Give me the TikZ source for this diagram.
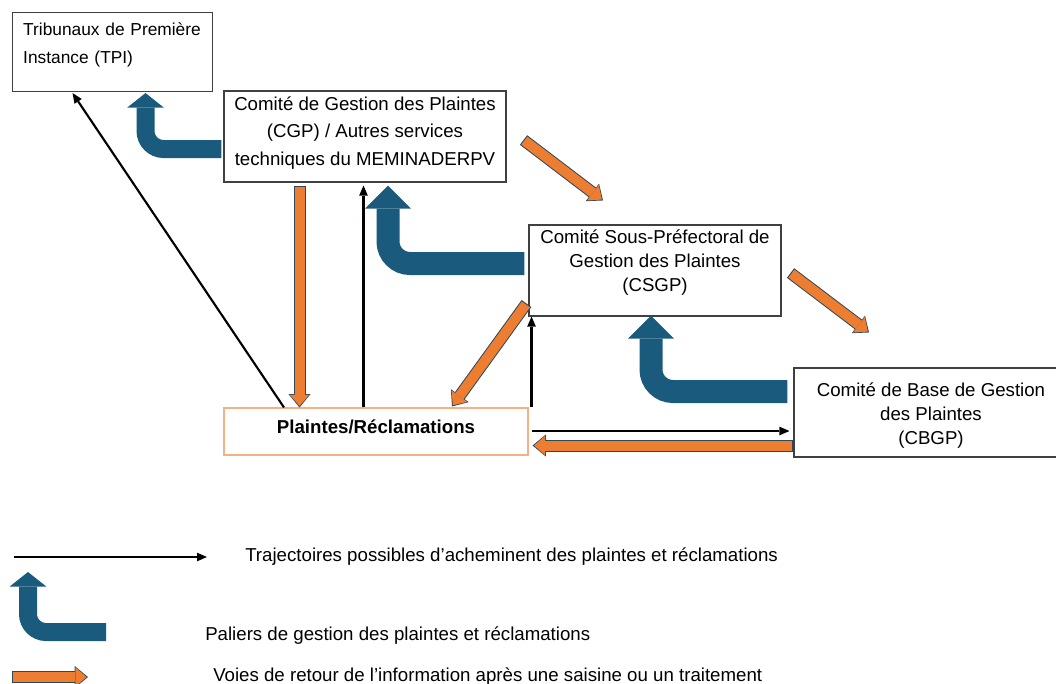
\documentclass[tikz,border=0pt]{standalone}
\usepackage{fontspec}
\setmainfont{Liberation Sans}
\usetikzlibrary{arrows.meta, calc}
\definecolor{palblue}{HTML}{1A5A7D}
\definecolor{retorange}{HTML}{ED7D31}
\definecolor{retedge}{HTML}{2F4858}
\definecolor{boxedge}{HTML}{404040}
\definecolor{pinkedge}{HTML}{F4B183}

\begin{document}
\begin{tikzpicture}[x=0.75pt, y=-0.75pt,
  box/.style={draw=boxedge, line width=0.8pt, inner sep=0pt, align=center},
  traj/.style={black, line width=1.6pt, -{Triangle[length=7.5pt, width=6.5pt, line width=0pt]}},
  palier/.style={palblue, line width=17.25pt, rounded corners=16.5pt,
    -{Triangle[length=17.25pt, width=34.5pt, line width=0pt]}},
  palsmall/.style={palblue, line width=13.5pt, rounded corners=13.5pt,
    -{Triangle[length=11pt, width=27.75pt, line width=0pt]}},
  retour/.style={draw=retorange, line width=7.5pt, shorten <=0.8pt, shorten >=1.1pt,
    -{Triangle[length=8.4pt, width=14.5pt, line width=0pt]},
    preaction={draw=retedge, line width=9pt, shorten <=0pt, shorten >=0pt,
      -{Triangle[length=10pt, width=16.5pt, line width=0pt]}}},
  legtext/.style={anchor=base west, inner sep=0pt, font=\fontsize{14}{17}\selectfont}]

\useasboundingbox (0,0) rectangle (1056,683);

% Boxes
\node[box, anchor=north west, align=left, text width=138pt, inner xsep=6pt,
      text height=17.25pt, text depth=42pt, font=\fontsize{13}{21}\selectfont]
      (tpi) at (12,12) {\hspace*{2pt}Tribunaux de Première\\\hspace*{2pt}Instance (TPI)};
\node[box, minimum width=211.5pt, text height=55.5pt, text depth=12.75pt,
      font=\fontsize{14}{20.6}\selectfont]
      (cgp) at (365,136.5) {Comité de Gestion des Plaintes\\(CGP) / Autres services\\techniques du MEMINADERPV};
\node[box, minimum width=189pt, text height=49.5pt, text depth=18.75pt,
      font=\fontsize{14}{18}\selectfont]
      (csgp) at (655,270.5) {Comité Sous-Préfectoral de\\Gestion des Plaintes\\(CSGP)};
\node[box, minimum width=205.5pt, text height=57pt, text depth=9.75pt,
      font=\fontsize{14}{18}\selectfont]
      (cbgp) at (931,412.5) {Comité de Base de Gestion\\des Plaintes\\(CBGP)};
\node[box, draw=pinkedge, minimum width=228pt, text height=18.75pt, text depth=16.5pt,
      font=\bfseries\fontsize{14}{17}\selectfont]
      (plaintes) at (376,431.5) {Plaintes/Réclamations};

% Paliers (blue)
\draw[palsmall] ($(cgp.west)+(-2,12.5)$) -| ($(tpi.south)+(33,1)$);
\draw[palier] ($(csgp.west)+(-4,-7)$) -| ($(cgp.south)+(23,3)$);
\draw[palier] ($(cbgp.west)+(-6,-21)$) -| ($(csgp.south)+(-4,-1)$);

% Trajectoires (black)
\draw[traj] ($(plaintes.north)+(-92,0)$) -- ($(tpi.south)+(-40,1)$);
\coordinate (t2) at ($(plaintes.north)+(-12.5,0)$);
\draw[traj, shorten >=2.25pt] (t2) -- (t2 |- cgp.south);
\coordinate (t8) at ($(plaintes.north east)+(3,0)$);
\draw[traj] (t8) -- (t8 |- csgp.south);
\coordinate (t11) at ($(plaintes.east)+(3,-0.5)$);
\draw[traj, shorten >=3pt] (t11) -- (t11 -| cbgp.west);

% Retours (orange)
\coordinate (r1) at ($(cgp.south)+(-65.5,3)$);
\draw[retour] (r1) -- (r1 |- plaintes.north);
\draw[retour] ($(cgp.east)+(17,3.5)$) -- ($(csgp.north)+(-52,-24)$);
\draw[retour] ($(csgp.south west)+(-2,-13)$) -- ($(plaintes.north)+(76,-1)$);
\draw[retour] ($(csgp.east)+(9,2.5)$) -- ($(cbgp.north)+(-62,-35)$);
\coordinate (r12) at ($(cbgp.west)+(0,33)$);
\coordinate (r12e) at (r12 -| plaintes.east);
\draw[retour] (r12) -- ($(r12e)+(4,0)$);

% Legend
\coordinate (legA) at (14,557);
\coordinate (legB) at (207,557);
\draw[traj] (legA) -- (legB);
\node[legtext] (ltraj) at (245,561) {Trajectoires possibles d’acheminent des plaintes et réclamations};
\coordinate (legC) at (106,632);
\coordinate (legD) at (28,572);
\draw[palsmall] (legC) -| (legD);
\node[legtext] (lpal) at (205,640) {Paliers de gestion des plaintes et réclamations};
\coordinate (legE) at (12,677);
\coordinate (legF) at (88,677);
\draw[retour] (legE) -- (legF);
\node[legtext] (lret) at (213,681) {Voies de retour de l’information après une saisine ou un traitement};

\end{tikzpicture}
\end{document}
